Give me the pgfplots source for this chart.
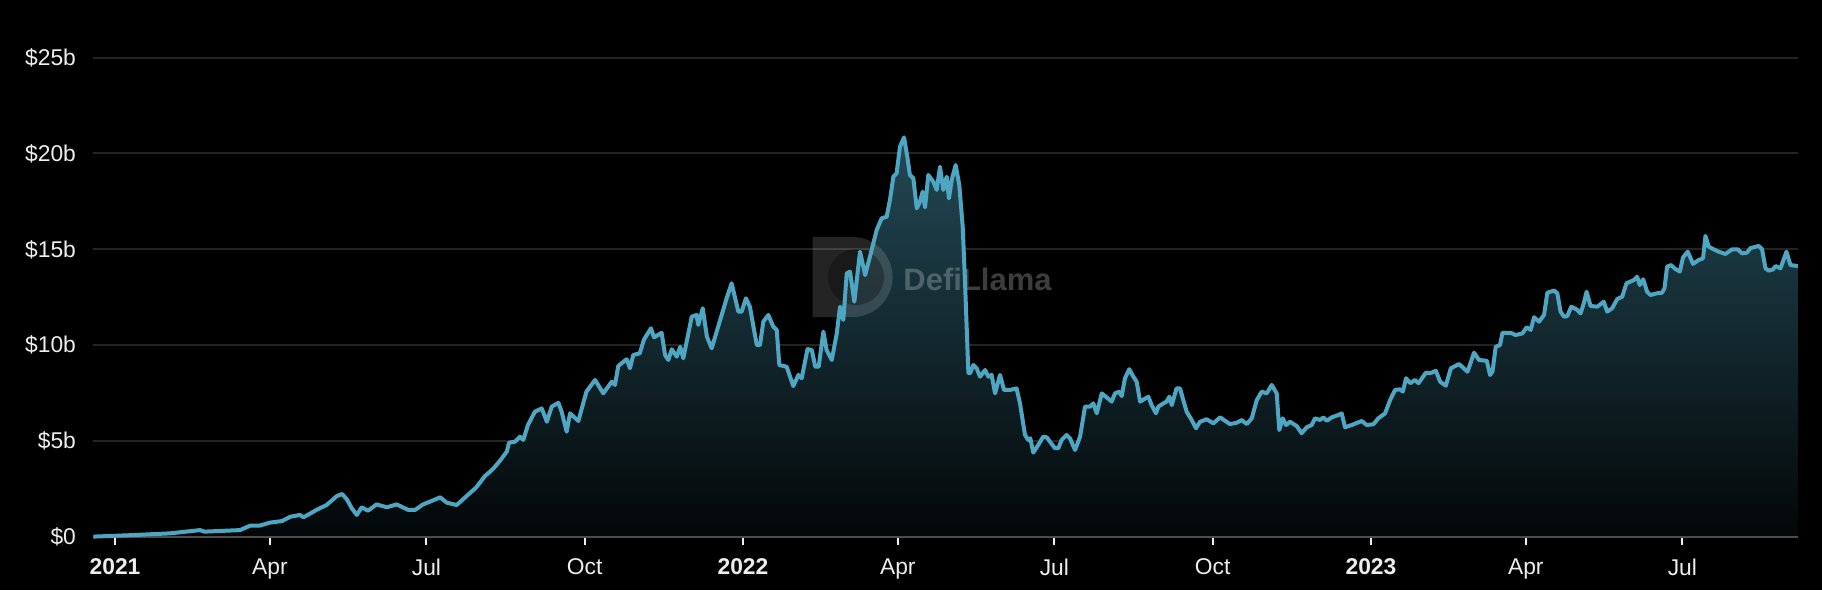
\documentclass[border=0pt]{standalone}
\usepackage{fontspec}
\setmainfont{Liberation Sans}
\usepackage{pgfplots}
\usepackage{pgfplotstable}
\pgfplotsset{compat=1.18}
\usetikzlibrary{shapes.misc}
\definecolor{linec}{HTML}{4FA6C3}
\definecolor{gridc}{HTML}{242424}
\definecolor{axisc}{HTML}{4D4D4D}
\definecolor{labc}{HTML}{EEEEEE}

% d = days since 2021-01-01, v = TVL in $ billions
\pgfplotstableread{
d v
-12.6 0.02
10.5 0.10
32 0.19
49.4 0.36
52 0.28
72.7 0.36
78.5 0.59
84 0.59
90 0.75
97 0.83
102 1.06
107.5 1.15
109.5 1.03
113 1.20
117 1.41
123 1.67
129 2.14
132 2.24
134.7 1.97
137.6 1.50
140.5 1.15
143.4 1.55
147 1.37
152 1.70
158 1.55
163.7 1.70
170.5 1.41
174.4 1.41
179 1.70
183 1.84
189 2.07
192.8 1.79
198.6 1.67
204.4 2.14
210 2.59
215 3.18
218 3.41
220 3.58
223.5 3.95
227.7 4.45
229 4.92
232.5 4.97
235.4 5.23
237.3 5.06
240 5.84
244 6.53
248 6.71
251 6.01
253.8 6.80
257.7 7.00
259.6 6.53
262.5 5.49
264.5 6.45
269.3 6.05
274 7.58
279 8.19
283.8 7.49
288.7 8.10
290.6 7.93
292.5 8.92
297.4 9.27
299.3 8.80
301.2 9.49
305 9.58
307.5 10.31
311.5 10.88
313.3 10.41
317.7 10.65
319.7 9.49
321.6 9.23
323.6 9.79
326.5 9.40
328.5 9.92
330.3 9.32
335.2 11.49
338 11.58
339 11.06
341.6 11.93
344 10.45
346.8 9.84
349.7 10.71
355.5 12.45
358.4 13.23
362.3 11.75
364.2 11.75
366.7 12.45
369 12.01
373 10.01
374.9 10.01
376.8 11.23
379.7 11.58
382.6 10.97
384.6 10.80
386.1 8.97
390.4 8.88
394.2 7.87
397.2 8.45
399.1 8.28
402.5 9.80
405 9.75
407 8.88
409 8.88
411.7 10.71
413.6 9.75
416.6 9.23
419.5 10.62
421.4 12.01
423.3 11.32
425.3 13.75
427.2 13.84
429.7 12.27
433 14.88
436 13.66
439.8 14.97
442.7 16.01
445.6 16.62
448.5 16.70
450.4 17.57
452.4 18.79
454.3 18.97
456.2 20.35
458.6 20.84
460.5 19.83
462 18.88
464 18.71
466 17.14
467.9 17.49
469.4 18.01
470.8 17.19
472.7 18.88
475.6 18.53
477.6 18.10
479.5 19.31
481.4 18.10
483.4 18.79
484.7 17.66
486.3 18.62
488.6 19.40
490.7 18.36
492.7 16.18
494 13.40
496 8.54
497 8.54
498.9 8.97
500.8 8.80
502.8 8.36
505.7 8.71
507.6 8.36
509.5 8.45
511.5 7.49
514.4 8.45
516.7 7.67
520.2 7.67
524 7.75
526 6.97
528.9 5.32
530.8 5.06
532 5.15
533.7 4.40
536.6 4.80
539.5 5.23
541.5 5.20
543.4 4.97
546.3 4.63
548.3 4.63
550.2 5.06
553.1 5.32
555 5.15
558 4.54
560.9 5.23
563.8 6.80
566.7 6.80
568.6 6.97
570.6 6.45
573.5 7.49
576.4 7.28
579.3 7.06
581.2 7.49
583.7 7.58
585.1 7.35
587 8.28
589.5 8.75
591.9 8.36
593.8 8.10
595.8 7.06
600.6 7.32
602.5 6.88
605 6.45
606.4 6.80
609.3 6.97
611.2 7.06
612.8 7.32
614.2 6.88
617 7.75
619 7.75
620.9 7.14
622.9 6.53
625.8 6.10
628.3 5.67
630.6 6.01
634.5 6.14
638.4 5.93
642.3 6.24
648 5.89
652 5.96
654.8 6.10
657.8 5.89
660.7 6.19
663.6 7.14
666.5 7.58
669.4 7.49
672.3 7.93
675.2 7.49
676.7 5.58
678.7 6.19
680.6 5.84
682.9 6.01
686.8 5.79
689.7 5.41
692.6 5.72
695.5 5.84
697.5 6.19
700.4 6.10
702.3 6.24
704.3 6.06
707.2 6.24
711 6.36
713 6.45
714.9 5.72
718.8 5.84
724.6 6.05
727.5 5.84
731.4 5.88
734.3 6.19
738.2 6.45
741.1 7.14
744 7.67
746.9 7.70
748.5 7.58
750.4 8.28
752.8 8.02
755.6 8.19
757.6 8.02
761.9 8.57
764.4 8.54
767.7 8.67
770.2 8.10
773.5 7.89
776.4 8.80
781.2 9.02
786.1 8.62
789.9 9.61
792.8 9.23
797.3 9.19
799.2 8.45
800.6 8.62
802.5 9.92
805 10.01
806.4 10.65
811.2 10.65
814.1 10.53
818 10.62
820.5 10.94
822.8 10.80
824.8 11.46
827.7 11.23
830.6 11.58
832.5 12.74
836.4 12.85
838.3 12.71
840.2 11.75
842.2 11.49
844.1 11.52
846.4 12.01
849.5 11.87
851.8 11.66
853.7 12.19
855.3 12.79
857.6 12.05
861.5 12.01
865.3 12.27
867.3 11.75
870.2 11.93
873.1 12.41
876 12.53
878.5 13.23
882.8 13.40
884.7 13.57
886.2 13.14
888.2 13.44
890.5 12.79
892.4 12.62
896.3 12.71
899.2 12.74
900.6 12.97
902.1 14.10
904.5 14.18
906.4 14.01
909.5 13.84
911.4 14.59
914.1 14.88
917.2 14.24
920.5 14.45
923 14.53
924.4 15.70
926.3 15.14
929.2 15.00
932.1 14.88
936 14.76
939.9 15.00
943.2 15.00
945.7 14.79
948.6 14.83
950.5 15.06
955.4 15.18
957.3 15.00
959.3 14.01
961.2 13.89
963.7 13.96
965.1 14.13
968 14.01
971.5 14.88
973.8 14.18
978.1 14.13
}\tvl

\begin{document}
\begin{tikzpicture}
\fill[black] (0,0) rectangle (911pt,295pt);
\begin{axis}[
  at={(46.5pt,26.5pt)}, anchor=south west,
  scale only axis, width=852.5pt, height=239.7pt,
  xmin=-12.8, xmax=978.2, ymin=0, ymax=25,
  axis line style={draw=none},
  ymajorgrids, major grid style={gridc, line width=1pt},
  ytick={0,5,10,15,20,25},
  yticklabels={\$0,\$5b,\$10b,\$15b,\$20b,\$25b},
  xtick={0,90,181,273,365,455,546,638,730,820,911},
  xticklabels={\textbf{2021},Apr,Jul,Oct,\textbf{2022},Apr,Jul,Oct,\textbf{2023},Apr,Jul},
  xtick pos=bottom,
  tick align=outside, major tick length=4pt,
  xtick style={labc, line width=1pt},
  ytick style={draw=none},
  ticklabel style={font=\fontsize{11.4}{13}\selectfont, text=labc},
  xticklabel style={yshift=-3.3pt},
  yticklabel style={xshift=-1pt},
  clip=false,
]
\addplot[draw=none, top color=linec!44!black, bottom color=linec!4!black] table[x=d,y=v] {\tvl} \closedcycle;
\node[rounded rectangle, rounded rectangle left arc=none, minimum width=34.5pt, minimum height=40pt, inner sep=0pt, fill=white, fill opacity=0.14] at (rel axis cs:0.4455,0.5423) {};
\fill[black, opacity=0.3] (rel axis cs:0.4475,0.5423) circle[radius=14pt];
\node[anchor=west, text=white, text opacity=0.24, font=\fontsize{15.5}{17}\selectfont\bfseries, inner sep=0pt] at (rel axis cs:0.4751,0.5382) {DefiLlama};
\draw[axisc, line width=1pt] (rel axis cs:0,0) -- (rel axis cs:1,0);
\addplot[linec, line width=2pt, line join=round] table[x=d,y=v] {\tvl};
\end{axis}
\pgfresetboundingbox
\useasboundingbox (0,0) rectangle (911pt,295pt);
\end{tikzpicture}
\end{document}
